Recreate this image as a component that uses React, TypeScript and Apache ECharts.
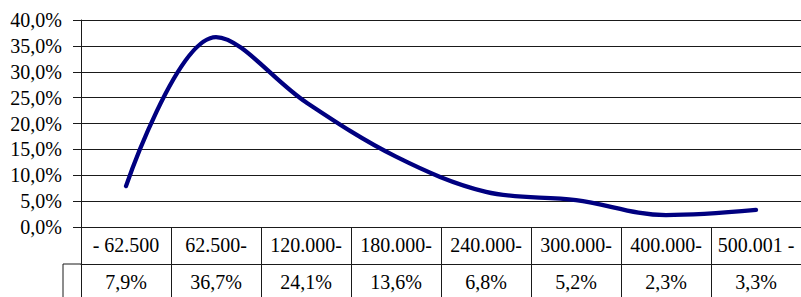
import React, { useEffect, useRef } from "react";
import * as echarts from "echarts";

const categories = ["- 62.500", "62.500-", "120.000-", "180.000-", "240.000-", "300.000-", "400.000-", "500.001 -"];
const shares = [7.9, 36.7, 24.1, 13.6, 6.8, 5.2, 2.3, 3.3];
const yMin = 0;
const yMax = 40;
const yStep = 5;

const fmt = (v: number) => v.toFixed(1).replace(".", ",") + "%";
const FONT = "Times New Roman, Liberation Serif, serif";

export default function App() {
  const ref = useRef<HTMLDivElement>(null);
  useEffect(() => {
    if (!ref.current) return;
    const chart = echarts.init(ref.current, null, { renderer: "svg" });
    const lineStyle = { color: "#1a1a1a", width: 1 };
    chart.setOption({
      animation: false,
      textStyle: { fontFamily: FONT },
      grid: { left: 81, top: 20, width: 725.6, height: 207, containLabel: false },
      xAxis: [
        {
          type: "category",
          data: categories,
          boundaryGap: true,
          position: "bottom",
          axisLine: { show: true, lineStyle },
          axisTick: { show: true, interval: 0, length: 37, lineStyle },
          axisLabel: { interval: 0, margin: 8, color: "#000", fontFamily: FONT, fontSize: 20 },
          splitLine: { show: false },
        },
        {
          type: "category",
          data: shares.map(fmt),
          boundaryGap: true,
          position: "bottom",
          offset: 37,
          axisLine: { show: true, lineStyle },
          axisTick: { show: true, interval: 0, length: 34, lineStyle },
          axisLabel: { interval: 0, margin: 8, color: "#000", fontFamily: FONT, fontSize: 20 },
          splitLine: { show: false },
        },
      ],
      yAxis: {
        type: "value",
        min: yMin,
        max: yMax,
        interval: yStep,
        axisLine: { show: true, lineStyle },
        axisTick: { show: true, length: 8, lineStyle },
        axisLabel: { formatter: (v: number) => fmt(v), margin: 19, color: "#000", fontFamily: FONT, fontSize: 20 },
        splitLine: { show: true, lineStyle },
      },
      graphic: [
        { type: "line", shape: { x1: 63, y1: 264, x2: 81, y2: 264 }, style: { stroke: "#1a1a1a", lineWidth: 1 } },
        { type: "line", shape: { x1: 63, y1: 264, x2: 63, y2: 297 }, style: { stroke: "#1a1a1a", lineWidth: 1 } },
      ],
      series: [
        {
          type: "line",
          xAxisIndex: 0,
          data: shares,
          smooth: 0.35,
          symbol: "none",
          lineStyle: { color: "#000080", width: 4.3, cap: "round", join: "round" },
        },
      ],
    });
    return () => chart.dispose();
  }, []);
  return <div ref={ref} style={{ position: "absolute", left: 0, top: 0, width: 801, height: 297 }} />;
}
